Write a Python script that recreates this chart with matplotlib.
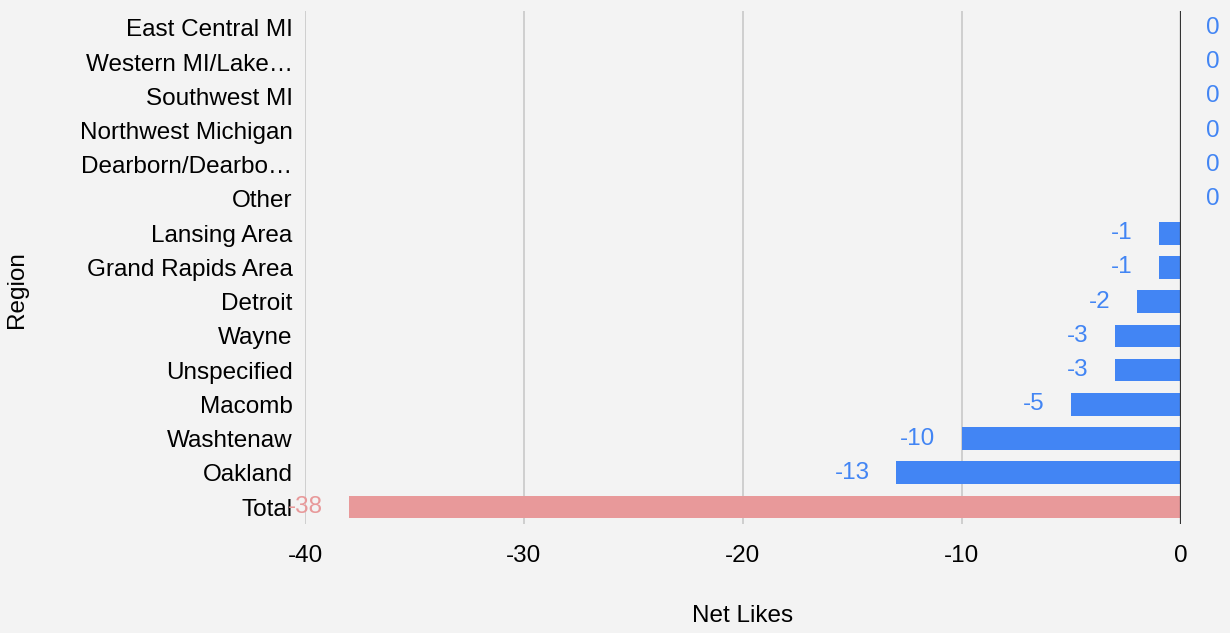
import matplotlib.pyplot as plt

regions = ["East Central MI", "Western MI/Lake\u2026", "Southwest MI", "Northwest Michigan",
           "Dearborn/Dearbo\u2026", "Other", "Lansing Area", "Grand Rapids Area", "Detroit",
           "Wayne", "Unspecified", "Macomb", "Washtenaw", "Oakland", "Total"]
net_likes = [0, 0, 0, 0, 0, 0, -1, -1, -2, -3, -3, -5, -10, -13, -38]
x_ticks = [-40, -30, -20, -10, 0]

BLUE = "#4285f4"
SALMON = "#e8999a"
BG = "#f3f3f3"
FS = 17.5

plt.rcParams["font.family"] = ["Liberation Sans", "DejaVu Sans"]

fig = plt.figure(figsize=(12.3, 6.33), dpi=100, facecolor=BG)
ax = fig.add_axes([0.248, 0.172, 0.712, 0.811], facecolor=BG)

ypos = list(range(len(regions)))
colors = [SALMON if r == "Total" else BLUE for r in regions]
ax.barh(ypos, net_likes, height=0.66, color=colors, zorder=3)

for y, v, c in zip(ypos, net_likes, colors):
    if v == 0:
        ax.annotate(str(v), (v, y), xytext=(18, 0), textcoords="offset points",
                    ha="left", va="center", fontsize=FS, color=c, annotation_clip=False)
    else:
        ax.annotate(str(v), (v, y), xytext=(-19, 0), textcoords="offset points",
                    ha="right", va="center", fontsize=FS, color=c, zorder=4)

ax.set_xlim(-40, 0)
ax.set_ylim(len(regions) - 0.5, -0.5)
ax.set_xticks(x_ticks)
ax.set_xticklabels([str(t) for t in x_ticks], fontsize=FS)
ax.set_yticks(ypos)
ax.set_yticklabels(regions, fontsize=FS)
ax.tick_params(axis="both", length=0)
ax.tick_params(axis="x", pad=15)
ax.tick_params(axis="y", pad=9)

for t in x_ticks[:-1]:
    ax.axvline(t, color="#c8c8c8", linewidth=1.2, zorder=1)
ax.axvline(0, color="#333333", linewidth=1.6, zorder=5)

for s in ax.spines.values():
    s.set_visible(False)

ax.set_xlabel("Net Likes", fontsize=FS)
ax.set_ylabel("Region", fontsize=FS)
ax.xaxis.set_label_coords(0.5, -0.158)
ax.yaxis.set_label_coords(-0.316, 0.456)

fig.savefig("out.png", dpi=100, facecolor=BG)
